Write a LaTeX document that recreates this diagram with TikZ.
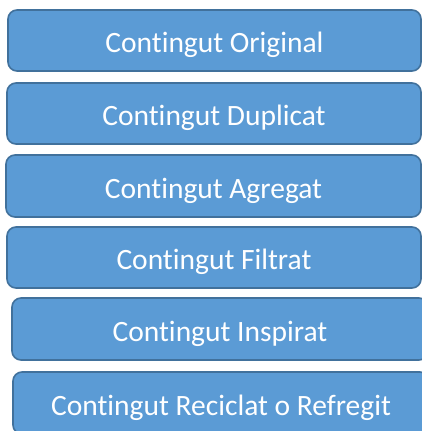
\documentclass[tikz,border=0pt]{standalone}
\usepackage{fontspec}
\setmainfont{Carlito}[RawFeature={-liga;-calt;-clig;-dlig}]
\definecolor{boxfill}{HTML}{5B9BD5}
\definecolor{boxline}{HTML}{41719C}
\newcommand\mytiword{Cont\kern0pt ingut}
\tikzset{
  cbox/.style={draw=boxline, fill=boxfill, line width=1.6pt, rounded corners=9pt,
    text=white, font=\fontsize{29.5}{32}\selectfont, inner sep=0pt,
    text height=24pt, text depth=0pt, minimum height=61pt, anchor=center}
}
\begin{document}
\begin{tikzpicture}[x=1pt,y=-1pt]
\useasboundingbox (0,0) rectangle (422,431);
\clip (0,0) rectangle (422,431);
\node[cbox, minimum width=413pt] (b1) at (214.5,40.5) {\mytiword{} Original};
\node[cbox, minimum width=414pt] (b2) at (214,113.5) {\mytiword{} Duplicat};
\node[cbox, minimum width=415pt, minimum height=62pt] (b3) at (213.5,186) {\mytiword{} Agregat};
\node[cbox, minimum width=414pt] (b4) at (214,257.5) {\mytiword{} Filtrat};
\node[cbox, minimum width=416pt, minimum height=62pt] (b5) at (220,329) {\mytiword{} Inspirat};
\node[cbox, minimum width=416pt, minimum height=62pt] (b6) at (221,403) {\mytiword{} Reciclat o Refregit};
\end{tikzpicture}
\end{document}
